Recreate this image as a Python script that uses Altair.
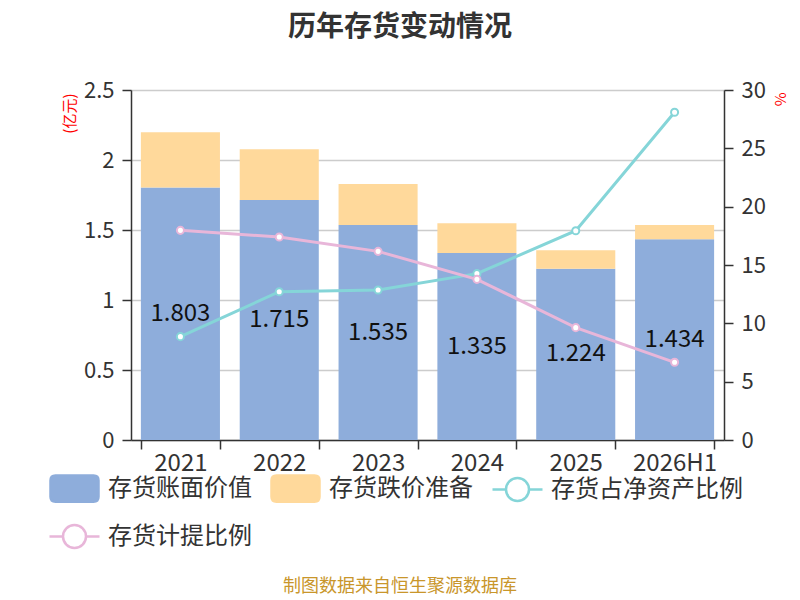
import altair as alt
import pandas as pd

years = ["2021", "2022", "2023", "2024", "2025", "2026H1"]
book_value = [1.803, 1.715, 1.535, 1.335, 1.224, 1.434]
impairment = [0.395, 0.361, 0.294, 0.213, 0.131, 0.102]
ratio_net_assets = [8.86, 12.71, 12.86, 14.26, 17.94, 28.09]
provision_ratio = [17.97, 17.40, 16.17, 13.77, 9.63, 6.66]

S_BOOK = "存货账面价值"
S_IMP = "存货跌价准备"
S_NET = "存货占净资产比例"
S_PROV = "存货计提比例"
series_names = [S_BOOK, S_IMP, S_NET, S_PROV]

C_BLUE = "#8eaddb"
C_ORANGE = "#ffd99b"
C_CYAN = "#85d5d8"
C_PINK = "#e8b6d9"

FONT = "Noto Sans CJK SC"

# bar segments
bar_rows = []
for y, b, r in zip(years, book_value, impairment):
    bar_rows.append({"year": y, "series": S_BOOK, "lo": 0.0, "hi": b})
    bar_rows.append({"year": y, "series": S_IMP, "lo": b, "hi": b + r})
bars_df = pd.DataFrame(bar_rows)

label_df = pd.DataFrame({"year": years, "book": book_value})

line_rows = []
for y, a, p in zip(years, ratio_net_assets, provision_ratio):
    line_rows.append({"year": y, "series": S_NET, "value": a})
    line_rows.append({"year": y, "series": S_PROV, "value": p})
lines_df = pd.DataFrame(line_rows)

RECT_PATH = ("M-0.95,-0.66 L0.95,-0.66 Q1.2,-0.66 1.2,-0.41 L1.2,0.41 Q1.2,0.66 0.95,0.66 "
             "L-0.95,0.66 Q-1.2,0.66 -1.2,0.41 L-1.2,-0.41 Q-1.2,-0.66 -0.95,-0.66 Z")
LC_PATH = ("M-0.575,0 C-0.575,-0.3176 -0.3176,-0.575 0,-0.575 C0.3176,-0.575 0.575,-0.3176 0.575,0 "
           "C0.575,0.3176 0.3176,0.575 0,0.575 C-0.3176,0.575 -0.575,0.3176 -0.575,0 Z "
           "M-1.25,0 L-0.575,0 M0.575,0 L1.25,0")

fill_scale = alt.Scale(domain=series_names, range=[C_BLUE, C_ORANGE, "#ffffff", "#ffffff"])
stroke_scale = alt.Scale(domain=series_names, range=[C_BLUE, C_ORANGE, C_CYAN, C_PINK])
shape_scale = alt.Scale(domain=series_names, range=[RECT_PATH, RECT_PATH, LC_PATH, LC_PATH])

x_enc = alt.X(
    "year:N", sort=years, title=None,
    scale=alt.Scale(paddingInner=0.2, paddingOuter=0.1),
    axis=alt.Axis(labelAngle=0, labelFontSize=24, labelColor="#333333", labelFont=FONT,
                  tickBand="extent", tickSize=9, tickColor="#333333", tickWidth=1.5,
                  domainColor="#333333", domainWidth=1.5, labelPadding=2, grid=False),
)

y_left = alt.Scale(domain=[0, 2.5], nice=False)
y_right = alt.Scale(domain=[0, 30], nice=False)

left_axis = alt.Axis(values=[0, 0.5, 1, 1.5, 2, 2.5], format="~g", title="(亿元)",
                     titleColor="red", titleFontSize=15, titleFontWeight="normal", titleFont=FONT,
                     titleAngle=-90, titleAnchor="end", titleAlign="right", titleBaseline="middle",
                     titleX=-62, titleY=3,
                     labelFontSize=22, labelColor="#333333", labelFont=FONT, labelPadding=8,
                     tickSize=9, tickColor="#333333", tickWidth=1.5,
                     domainColor="#333333", domainWidth=1.5,
                     grid=True, gridColor="#cccccc", gridWidth=1.5)

right_axis = alt.Axis(values=[0, 5, 10, 15, 20, 25, 30], format="~g", title="%", orient="right",
                      titleColor="red", titleFontSize=15, titleFontWeight="normal", titleFont=FONT,
                      titleAngle=90, titleAnchor="end", titleAlign="left", titleBaseline="middle",
                      titleX=55, titleY=2,
                      labelFontSize=22, labelColor="#333333", labelFont=FONT, labelPadding=8,
                      tickSize=9, tickColor="#333333", tickWidth=1.5,
                      domainColor="#333333", domainWidth=1.5, grid=False)

legend = alt.Legend(
    title=None, orient="none", legendX=-78, legendY=377, direction="horizontal", columns=3,
    columnPadding=14, rowPadding=8, labelFontSize=24, labelFont=FONT, labelColor="#333333",
    labelLimit=400, labelOffset=12, symbolSize=1600, symbolStrokeWidth=2.5, symbolOpacity=1,
    padding=0,
)

bars = alt.Chart(bars_df).mark_bar().encode(
    x=x_enc,
    y=alt.Y("hi:Q", scale=y_left, axis=left_axis),
    y2="lo:Q",
    fill=alt.Fill("series:N", scale=fill_scale, legend=legend),
)

labels = alt.Chart(label_df).transform_calculate(mid="datum.book / 2").mark_text(
    fontSize=24, font=FONT, color="#111111", baseline="middle"
).encode(
    x=alt.X("year:N", sort=years),
    y=alt.Y("mid:Q", scale=y_left),
    text=alt.Text("book:Q", format=".3f"),
)

left = alt.layer(bars, labels)

legend_carrier = alt.Chart(lines_df).mark_point(size=0, filled=True, opacity=1).encode(
    x=alt.X("year:N", sort=years),
    y=alt.Y("value:Q", scale=y_right, axis=right_axis),
    fill=alt.Fill("series:N", scale=fill_scale, legend=legend),
    stroke=alt.Stroke("series:N", scale=stroke_scale, legend=legend),
    shape=alt.Shape("series:N", scale=shape_scale, legend=legend),
)

lines = alt.Chart(lines_df).mark_line(strokeWidth=3).encode(
    x=alt.X("year:N", sort=years),
    y=alt.Y("value:Q", scale=y_right),
    stroke=alt.Stroke("series:N", scale=stroke_scale, legend=legend),
    detail="series:N",
)

points = alt.Chart(lines_df).mark_point(filled=True, fill="white", size=50, strokeWidth=2, opacity=1).encode(
    x=alt.X("year:N", sort=years),
    y=alt.Y("value:Q", scale=y_right),
    stroke=alt.Stroke("series:N", scale=stroke_scale, legend=legend),
)

right = alt.layer(legend_carrier, lines, points)

title_df = pd.DataFrame({"t": ["历年存货变动情况"]})
foot_df = pd.DataFrame({"t": ["制图数据来自恒生聚源数据库"]})

title_mark = alt.Chart(title_df).mark_text(
    fontSize=28, fontWeight="bold", font=FONT, color="#333333", align="center", baseline="middle"
).encode(x=alt.value(269), y=alt.value(-62), text="t:N")

foot_mark = alt.Chart(foot_df).mark_text(
    fontSize=18, font=FONT, color="#c9962b", align="center", baseline="middle"
).encode(x=alt.value(269), y=alt.value(497), text="t:N")

chart = alt.layer(left, right, title_mark, foot_mark).resolve_scale(y="independent").properties(
    width=593, height=350,
    padding={"left": 123, "top": 82, "right": 68, "bottom": 158},
    autosize=alt.AutoSizeParams(type="none"),
).configure_view(stroke=None).configure(background="white")

chart.save("out.html", embed_options={"renderer": "svg", "actions": False})
